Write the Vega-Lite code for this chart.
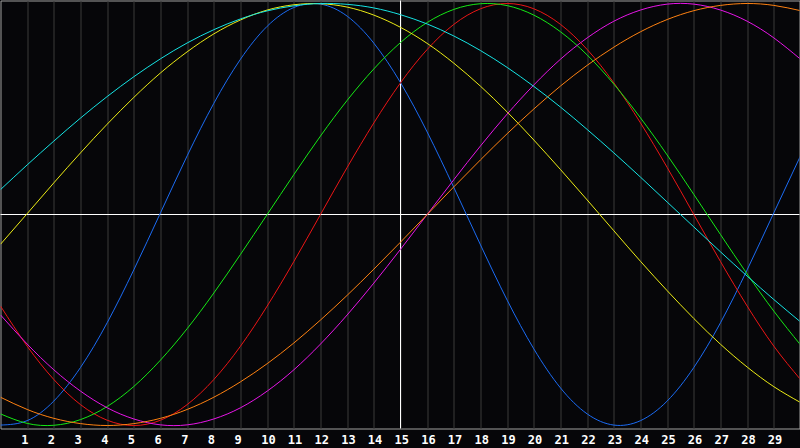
{
  "$schema": "https://vega.github.io/schema/vega-lite/v6.json",
  "width": 799,
  "height": 428,
  "autosize": "none",
  "padding": {"left": 0.5, "top": 0.5, "right": 0.5, "bottom": 19.5},
  "background": "#060609",
  "config": {
    "view": {"stroke": "#a0a0a0", "strokeWidth": 1}
  },
  "datasets": {
    "rhythm": [
      {"cycle":"Physical","day":0,"value":-0.998},{"cycle":"Physical","day":1,"value":-0.977},{"cycle":"Physical","day":2,"value":-0.884},{"cycle":"Physical","day":3,"value":-0.725},{"cycle":"Physical","day":4,"value":-0.513},{"cycle":"Physical","day":5,"value":-0.262},{"cycle":"Physical","day":6,"value":0.008},{"cycle":"Physical","day":7,"value":0.278},{"cycle":"Physical","day":8,"value":0.527},{"cycle":"Physical","day":9,"value":0.736},{"cycle":"Physical","day":10,"value":0.892},{"cycle":"Physical","day":11,"value":0.981},{"cycle":"Physical","day":12,"value":0.997},{"cycle":"Physical","day":13,"value":0.94},{"cycle":"Physical","day":14,"value":0.812},{"cycle":"Physical","day":15,"value":0.625},{"cycle":"Physical","day":16,"value":0.391},{"cycle":"Physical","day":17,"value":0.128},{"cycle":"Physical","day":18,"value":-0.144},{"cycle":"Physical","day":19,"value":-0.406},{"cycle":"Physical","day":20,"value":-0.637},{"cycle":"Physical","day":21,"value":-0.822},{"cycle":"Physical","day":22,"value":-0.945},{"cycle":"Physical","day":23,"value":-0.998},{"cycle":"Physical","day":24,"value":-0.977},{"cycle":"Physical","day":25,"value":-0.884},{"cycle":"Physical","day":26,"value":-0.725},{"cycle":"Physical","day":27,"value":-0.513},{"cycle":"Physical","day":28,"value":-0.262},{"cycle":"Physical","day":29,"value":0.008},{"cycle":"Physical","day":30,"value":0.278},
      {"cycle":"Emotional","day":0,"value":-0.434},{"cycle":"Emotional","day":1,"value":-0.624},{"cycle":"Emotional","day":2,"value":-0.782},{"cycle":"Emotional","day":3,"value":-0.901},{"cycle":"Emotional","day":4,"value":-0.975},{"cycle":"Emotional","day":5,"value":-1.0},{"cycle":"Emotional","day":6,"value":-0.975},{"cycle":"Emotional","day":7,"value":-0.901},{"cycle":"Emotional","day":8,"value":-0.782},{"cycle":"Emotional","day":9,"value":-0.624},{"cycle":"Emotional","day":10,"value":-0.434},{"cycle":"Emotional","day":11,"value":-0.223},{"cycle":"Emotional","day":12,"value":0},{"cycle":"Emotional","day":13,"value":0.223},{"cycle":"Emotional","day":14,"value":0.434},{"cycle":"Emotional","day":15,"value":0.624},{"cycle":"Emotional","day":16,"value":0.782},{"cycle":"Emotional","day":17,"value":0.901},{"cycle":"Emotional","day":18,"value":0.975},{"cycle":"Emotional","day":19,"value":1.0},{"cycle":"Emotional","day":20,"value":0.975},{"cycle":"Emotional","day":21,"value":0.901},{"cycle":"Emotional","day":22,"value":0.782},{"cycle":"Emotional","day":23,"value":0.624},{"cycle":"Emotional","day":24,"value":0.434},{"cycle":"Emotional","day":25,"value":0.223},{"cycle":"Emotional","day":26,"value":0},{"cycle":"Emotional","day":27,"value":-0.223},{"cycle":"Emotional","day":28,"value":-0.434},{"cycle":"Emotional","day":29,"value":-0.624},{"cycle":"Emotional","day":30,"value":-0.782},
      {"cycle":"Intellectual","day":0,"value":-0.945},{"cycle":"Intellectual","day":1,"value":-0.99},{"cycle":"Intellectual","day":2,"value":-0.999},{"cycle":"Intellectual","day":3,"value":-0.972},{"cycle":"Intellectual","day":4,"value":-0.91},{"cycle":"Intellectual","day":5,"value":-0.815},{"cycle":"Intellectual","day":6,"value":-0.69},{"cycle":"Intellectual","day":7,"value":-0.541},{"cycle":"Intellectual","day":8,"value":-0.372},{"cycle":"Intellectual","day":9,"value":-0.189},{"cycle":"Intellectual","day":10,"value":0},{"cycle":"Intellectual","day":11,"value":0.189},{"cycle":"Intellectual","day":12,"value":0.372},{"cycle":"Intellectual","day":13,"value":0.541},{"cycle":"Intellectual","day":14,"value":0.69},{"cycle":"Intellectual","day":15,"value":0.815},{"cycle":"Intellectual","day":16,"value":0.91},{"cycle":"Intellectual","day":17,"value":0.972},{"cycle":"Intellectual","day":18,"value":0.999},{"cycle":"Intellectual","day":19,"value":0.99},{"cycle":"Intellectual","day":20,"value":0.945},{"cycle":"Intellectual","day":21,"value":0.866},{"cycle":"Intellectual","day":22,"value":0.756},{"cycle":"Intellectual","day":23,"value":0.618},{"cycle":"Intellectual","day":24,"value":0.458},{"cycle":"Intellectual","day":25,"value":0.282},{"cycle":"Intellectual","day":26,"value":0.095},{"cycle":"Intellectual","day":27,"value":-0.095},{"cycle":"Intellectual","day":28,"value":-0.282},{"cycle":"Intellectual","day":29,"value":-0.458},{"cycle":"Intellectual","day":30,"value":-0.618},
      {"cycle":"Intuitive","day":0,"value":-0.476},{"cycle":"Intuitive","day":1,"value":-0.614},{"cycle":"Intuitive","day":2,"value":-0.736},{"cycle":"Intuitive","day":3,"value":-0.837},{"cycle":"Intuitive","day":4,"value":-0.916},{"cycle":"Intuitive","day":5,"value":-0.969},{"cycle":"Intuitive","day":6,"value":-0.997},{"cycle":"Intuitive","day":7,"value":-0.997},{"cycle":"Intuitive","day":8,"value":-0.969},{"cycle":"Intuitive","day":9,"value":-0.916},{"cycle":"Intuitive","day":10,"value":-0.837},{"cycle":"Intuitive","day":11,"value":-0.736},{"cycle":"Intuitive","day":12,"value":-0.614},{"cycle":"Intuitive","day":13,"value":-0.476},{"cycle":"Intuitive","day":14,"value":-0.325},{"cycle":"Intuitive","day":15,"value":-0.165},{"cycle":"Intuitive","day":16,"value":0},{"cycle":"Intuitive","day":17,"value":0.165},{"cycle":"Intuitive","day":18,"value":0.325},{"cycle":"Intuitive","day":19,"value":0.476},{"cycle":"Intuitive","day":20,"value":0.614},{"cycle":"Intuitive","day":21,"value":0.736},{"cycle":"Intuitive","day":22,"value":0.837},{"cycle":"Intuitive","day":23,"value":0.916},{"cycle":"Intuitive","day":24,"value":0.969},{"cycle":"Intuitive","day":25,"value":0.997},{"cycle":"Intuitive","day":26,"value":0.997},{"cycle":"Intuitive","day":27,"value":0.969},{"cycle":"Intuitive","day":28,"value":0.916},{"cycle":"Intuitive","day":29,"value":0.837},{"cycle":"Intuitive","day":30,"value":0.736},
      {"cycle":"Aesthetic","day":0,"value":-0.141},{"cycle":"Aesthetic","day":1,"value":0.004},{"cycle":"Aesthetic","day":2,"value":0.15},{"cycle":"Aesthetic","day":3,"value":0.292},{"cycle":"Aesthetic","day":4,"value":0.428},{"cycle":"Aesthetic","day":5,"value":0.555},{"cycle":"Aesthetic","day":6,"value":0.671},{"cycle":"Aesthetic","day":7,"value":0.771},{"cycle":"Aesthetic","day":8,"value":0.856},{"cycle":"Aesthetic","day":9,"value":0.922},{"cycle":"Aesthetic","day":10,"value":0.969},{"cycle":"Aesthetic","day":11,"value":0.994},{"cycle":"Aesthetic","day":12,"value":0.999},{"cycle":"Aesthetic","day":13,"value":0.983},{"cycle":"Aesthetic","day":14,"value":0.945},{"cycle":"Aesthetic","day":15,"value":0.887},{"cycle":"Aesthetic","day":16,"value":0.811},{"cycle":"Aesthetic","day":17,"value":0.717},{"cycle":"Aesthetic","day":18,"value":0.608},{"cycle":"Aesthetic","day":19,"value":0.486},{"cycle":"Aesthetic","day":20,"value":0.353},{"cycle":"Aesthetic","day":21,"value":0.213},{"cycle":"Aesthetic","day":22,"value":0.069},{"cycle":"Aesthetic","day":23,"value":-0.077},{"cycle":"Aesthetic","day":24,"value":-0.222},{"cycle":"Aesthetic","day":25,"value":-0.361},{"cycle":"Aesthetic","day":26,"value":-0.493},{"cycle":"Aesthetic","day":27,"value":-0.615},{"cycle":"Aesthetic","day":28,"value":-0.723},{"cycle":"Aesthetic","day":29,"value":-0.816},{"cycle":"Aesthetic","day":30,"value":-0.891},
      {"cycle":"Awareness","day":0,"value":-0.866},{"cycle":"Awareness","day":1,"value":-0.924},{"cycle":"Awareness","day":2,"value":-0.966},{"cycle":"Awareness","day":3,"value":-0.991},{"cycle":"Awareness","day":4,"value":-1.0},{"cycle":"Awareness","day":5,"value":-0.991},{"cycle":"Awareness","day":6,"value":-0.966},{"cycle":"Awareness","day":7,"value":-0.924},{"cycle":"Awareness","day":8,"value":-0.866},{"cycle":"Awareness","day":9,"value":-0.793},{"cycle":"Awareness","day":10,"value":-0.707},{"cycle":"Awareness","day":11,"value":-0.609},{"cycle":"Awareness","day":12,"value":-0.5},{"cycle":"Awareness","day":13,"value":-0.383},{"cycle":"Awareness","day":14,"value":-0.259},{"cycle":"Awareness","day":15,"value":-0.131},{"cycle":"Awareness","day":16,"value":0},{"cycle":"Awareness","day":17,"value":0.131},{"cycle":"Awareness","day":18,"value":0.259},{"cycle":"Awareness","day":19,"value":0.383},{"cycle":"Awareness","day":20,"value":0.5},{"cycle":"Awareness","day":21,"value":0.609},{"cycle":"Awareness","day":22,"value":0.707},{"cycle":"Awareness","day":23,"value":0.793},{"cycle":"Awareness","day":24,"value":0.866},{"cycle":"Awareness","day":25,"value":0.924},{"cycle":"Awareness","day":26,"value":0.966},{"cycle":"Awareness","day":27,"value":0.991},{"cycle":"Awareness","day":28,"value":1.0},{"cycle":"Awareness","day":29,"value":0.991},{"cycle":"Awareness","day":30,"value":0.966},
      {"cycle":"Spiritual","day":0,"value":0.118},{"cycle":"Spiritual","day":1,"value":0.235},{"cycle":"Spiritual","day":2,"value":0.348},{"cycle":"Spiritual","day":3,"value":0.457},{"cycle":"Spiritual","day":4,"value":0.559},{"cycle":"Spiritual","day":5,"value":0.653},{"cycle":"Spiritual","day":6,"value":0.738},{"cycle":"Spiritual","day":7,"value":0.813},{"cycle":"Spiritual","day":8,"value":0.876},{"cycle":"Spiritual","day":9,"value":0.927},{"cycle":"Spiritual","day":10,"value":0.965},{"cycle":"Spiritual","day":11,"value":0.989},{"cycle":"Spiritual","day":12,"value":1.0},{"cycle":"Spiritual","day":13,"value":0.996},{"cycle":"Spiritual","day":14,"value":0.979},{"cycle":"Spiritual","day":15,"value":0.947},{"cycle":"Spiritual","day":16,"value":0.903},{"cycle":"Spiritual","day":17,"value":0.846},{"cycle":"Spiritual","day":18,"value":0.777},{"cycle":"Spiritual","day":19,"value":0.697},{"cycle":"Spiritual","day":20,"value":0.607},{"cycle":"Spiritual","day":21,"value":0.509},{"cycle":"Spiritual","day":22,"value":0.403},{"cycle":"Spiritual","day":23,"value":0.292},{"cycle":"Spiritual","day":24,"value":0.177},{"cycle":"Spiritual","day":25,"value":0.059},{"cycle":"Spiritual","day":26,"value":-0.059},{"cycle":"Spiritual","day":27,"value":-0.177},{"cycle":"Spiritual","day":28,"value":-0.292},{"cycle":"Spiritual","day":29,"value":-0.403},{"cycle":"Spiritual","day":30,"value":-0.509}
    ]
  },
  "layer": [
    {
      "data": {"values": [{"ref": "today"}]},
      "mark": {"type": "rule", "color": "#ffffff", "strokeWidth": 1},
      "encoding": {
        "x": {"datum": 15, "type": "quantitative", "scale": {"domain": [0, 29.9625], "nice": false, "zero": false},
              "axis": {"values": [1,2,3,4,5,6,7,8,9,10,11,12,13,14,15,16,17,18,19,20,21,22,23,24,25,26,27,28,29],
                       "title": null, "domain": false, "ticks": false, "grid": true, "gridColor": "#3a3a3a", "gridOpacity": 1,
                       "labelColor": "#ffffff", "labelFont": "DejaVu Sans Mono", "labelFontWeight": "bold", "labelFontSize": 12,
                       "labelAlign": "left", "labelOffset": -6.5, "labelPadding": 6, "labelOverlap": false, "labelFlush": false, "labelBound": false}}
      }
    },
    {
      "data": {"values": [{"ref": "zero"}]},
      "mark": {"type": "rule", "color": "#ffffff", "strokeWidth": 1},
      "encoding": {"y": {"datum": 0, "type": "quantitative", "scale": {"domain": [-1.0142, 1.0142], "nice": false, "zero": false}, "axis": null}}
    },
    {
      "data": {"name": "rhythm"},
      "mark": {"type": "line", "strokeWidth": 1, "interpolate": "natural", "clip": true},
      "encoding": {
        "x": {"field": "day", "type": "quantitative", "scale": {"domain": [0, 29.9625], "nice": false, "zero": false},
              "axis": {"values": [1,2,3,4,5,6,7,8,9,10,11,12,13,14,15,16,17,18,19,20,21,22,23,24,25,26,27,28,29],
                       "title": null, "domain": false, "ticks": false, "grid": true, "gridColor": "#3a3a3a", "gridOpacity": 1,
                       "labelColor": "#ffffff", "labelFont": "DejaVu Sans Mono", "labelFontWeight": "bold", "labelFontSize": 12,
                       "labelAlign": "left", "labelOffset": -6.5, "labelPadding": 6, "labelOverlap": false, "labelFlush": false, "labelBound": false}},
        "y": {"field": "value", "type": "quantitative", "scale": {"domain": [-1.0142, 1.0142], "nice": false, "zero": false}, "axis": null},
        "color": {"field": "cycle", "type": "nominal", "legend": null,
                  "scale": {"domain": ["Physical","Emotional","Intellectual","Intuitive","Aesthetic","Awareness","Spiritual"],
                            "range": ["#1c6cf4","#ec1616","#16e816","#e816e8","#ecec16","#ff8212","#16e4e4"]}}
      }
    }
  ]
}
